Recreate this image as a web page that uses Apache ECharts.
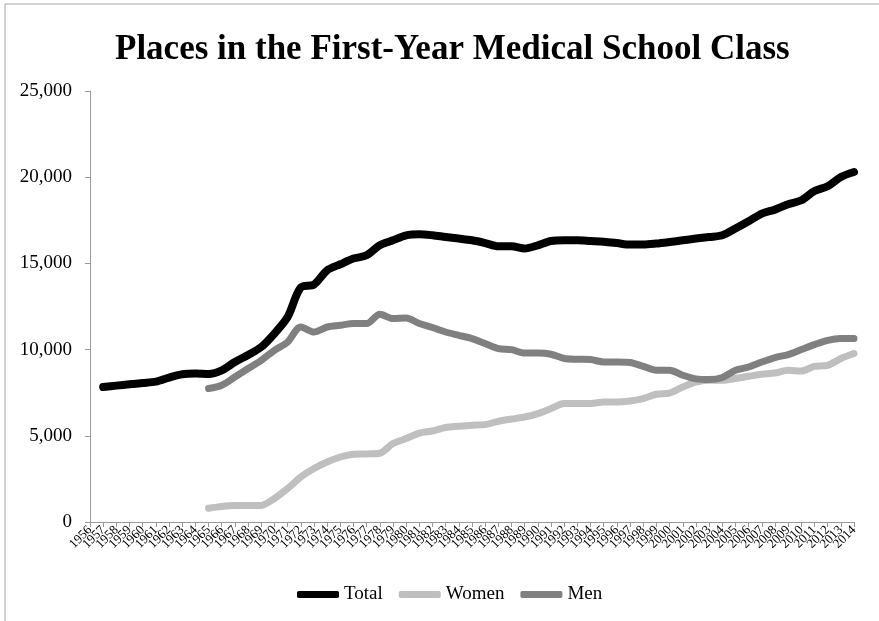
<!DOCTYPE html>
<html>
<head>
<meta charset="utf-8">
<title>Places in the First-Year Medical School Class</title>
<script src="https://cdn.jsdelivr.net/npm/echarts@6/dist/echarts.min.js"></script>
<style>
  html, body { margin: 0; padding: 0; background: #fff; }
  #chart { width: 879px; height: 621px; }
</style>
</head>
<body>
<div id="chart"></div>
<script>
// years on the x axis
var years = [
  '1956', '1957', '1958', '1959', '1960', '1961', '1962', '1963', '1964', '1965',
  '1966', '1967', '1968', '1969', '1970', '1971', '1972', '1973', '1974', '1975',
  '1976', '1977', '1978', '1979', '1980', '1981', '1982', '1983', '1984', '1985',
  '1986', '1987', '1988', '1989', '1990', '1991', '1992', '1993', '1994', '1995',
  '1996', '1997', '1998', '1999', '2000', '2001', '2002', '2003', '2004', '2005',
  '2006', '2007', '2008', '2009', '2010', '2011', '2012', '2013', '2014'
];

var totalPlaces = [
  null, 7830, 7910, 7990, 8060, 8140, 8375, 8570, 8610, 8590,
  8800, 9280, 9690, 10150, 10930, 11890, 13600, 13770, 14600, 14950,
  15280, 15470, 16050, 16340, 16630, 16690, 16630, 16530, 16440, 16340,
  16180, 15990, 15990, 15860, 16050, 16300, 16340, 16340, 16300, 16260,
  16180, 16090, 16090, 16150, 16240, 16340, 16440, 16530, 16630, 17020,
  17440, 17890, 18120, 18430, 18660, 19200, 19470, 20010, 20300
];

var womenPlaces = [
  null, null, null, null, null, null, null, null, null, 800,
  900, 950, 950, 960, 1360, 1940, 2610, 3100, 3480, 3770,
  3930, 3950, 3990, 4550, 4840, 5160, 5280, 5480, 5550, 5610,
  5650, 5840, 5970, 6090, 6290, 6580, 6870, 6870, 6870, 6960,
  6960, 7020, 7160, 7410, 7480, 7830, 8120, 8220, 8220, 8320,
  8450, 8570, 8640, 8800, 8760, 9030, 9090, 9480, 9770
];

var menPlaces = [
  null, null, null, null, null, null, null, null, null, 7740,
  7930, 8410, 8900, 9380, 9960, 10440, 11310, 11020, 11310, 11410,
  11510, 11510, 12050, 11800, 11830, 11510, 11280, 11020, 10830, 10640,
  10350, 10060, 10000, 9800, 9800, 9730, 9480, 9440, 9420, 9280,
  9280, 9250, 9030, 8800, 8800, 8510, 8300, 8260, 8380, 8800,
  8990, 9280, 9540, 9710, 10000, 10290, 10540, 10640, 10640
];

var serif = '"Liberation Serif", "DejaVu Serif", serif';

function lineSeries(name, data, color, width) {
  return {
    name: name,
    type: 'line',
    data: data,
    symbol: 'none',
    smooth: 0.3,
    lineStyle: { color: color, width: width, cap: 'round', join: 'round' },
    itemStyle: { color: color }
  };
}

var chart = echarts.init(document.getElementById('chart'));

chart.setOption({
  backgroundColor: '#fff',
  animation: false,
  graphic: [{
    type: 'rect',
    shape: { x: 5, y: 4, width: 1000, height: 800 },
    style: { fill: 'none', stroke: '#a6a6a6', lineWidth: 1 },
    silent: true
  }],
  title: {
    text: 'Places in the First-Year Medical School Class',
    left: 110,
    top: 27,
    textStyle: {
      fontFamily: serif,
      fontWeight: 'bold',
      fontSize: 35,
      color: '#000'
    }
  },
  legend: {
    data: ['Total', 'Women', 'Men'],
    left: 292,
    top: 580,
    icon: 'roundRect',
    itemWidth: 42,
    itemHeight: 7,
    itemGap: 16,
    textStyle: { fontFamily: serif, fontSize: 19, color: '#000' }
  },
  grid: {
    left: 90,
    right: 25,
    top: 91,
    bottom: 99,
    containLabel: false
  },
  xAxis: {
    type: 'category',
    data: years,
    boundaryGap: false,
    axisLine: { lineStyle: { color: '#999', width: 1 } },
    axisTick: { show: true, length: 5, interval: 0, lineStyle: { color: '#999' } },
    axisLabel: {
      interval: 0,
      rotate: 45,
      margin: 6,
      fontFamily: serif,
      fontSize: 13,
      color: '#000'
    },
    splitLine: { show: false }
  },
  yAxis: {
    type: 'value',
    min: 0,
    max: 25000,
    interval: 5000,
    axisLine: { show: true, lineStyle: { color: '#999', width: 1 } },
    axisTick: { show: true, length: 5, lineStyle: { color: '#999' } },
    axisLabel: {
      margin: 18,
      fontFamily: serif,
      fontSize: 19,
      color: '#000',
      formatter: function (v) { return v.toLocaleString('en-US'); }
    },
    splitLine: { show: false }
  },
  series: [
    lineSeries('Total', totalPlaces, '#000000', 8),
    lineSeries('Women', womenPlaces, '#bfbfbf', 7),
    lineSeries('Men', menPlaces, '#808080', 7)
  ]
});
</script>
</body>
</html>
